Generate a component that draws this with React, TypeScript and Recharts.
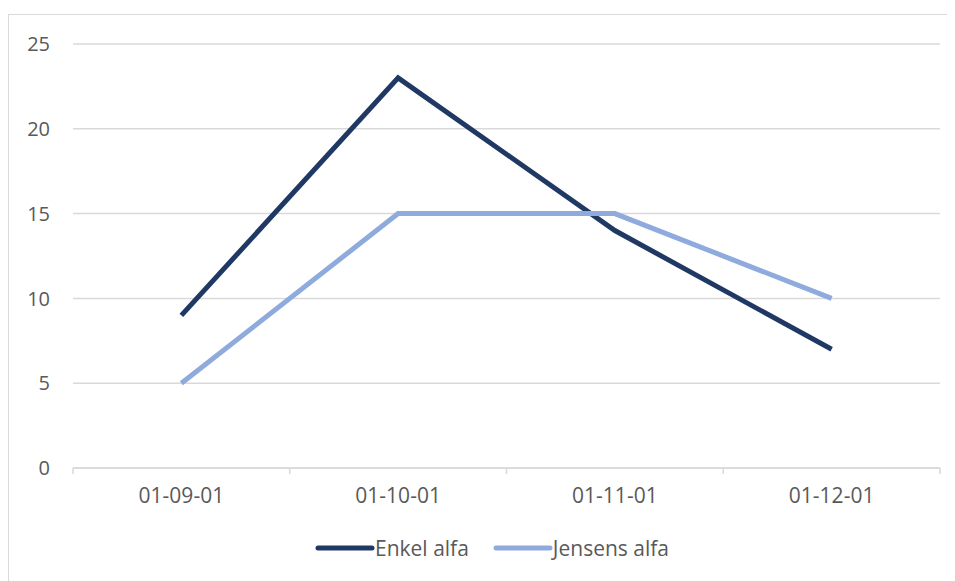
import { CartesianGrid, Legend, Line, LineChart, XAxis, YAxis } from 'recharts'

const months = ['01-09-01', '01-10-01', '01-11-01', '01-12-01']
const enkelAlfa = [9, 23, 14, 7]
const jensensAlfa = [5, 15, 15, 10]
const yTicks = [0, 5, 10, 15, 20, 25]

const DARK = '#203864'
const LIGHT = '#8faadc'
const TEXT = '#595959'
const GRID = '#d9d9d9'
const FONT = '"Open Sans", sans-serif'

const data = months.map((m, i) => ({
  pos: i + 0.5,
  month: m,
  enkel: enkelAlfa[i],
  jensens: jensensAlfa[i],
}))

const xTicks = months.flatMap((_, i) => [i, i + 0.5]).concat(months.length)

function MonthTick(props: any) {
  const { x, y, payload } = props
  const v = payload.value as number
  if (Number.isInteger(v)) {
    return <line x1={x} x2={x} y1={y} y2={y + 6} stroke={GRID} strokeWidth={1.5} />
  }
  return (
    <text x={x} y={y + 29} textAnchor="middle" dominantBaseline="middle" fill={TEXT} fontSize={21} fontFamily={FONT}>
      {months[Math.floor(v)]}
    </text>
  )
}

const series = [
  { name: 'Enkel alfa', color: DARK },
  { name: 'Jensens alfa', color: LIGHT },
]

function ChartLegend() {
  return (
    <div style={{ display: 'flex', alignItems: 'center', height: 30, paddingLeft: 307, fontFamily: FONT, fontSize: 21, color: TEXT }}>
      {series.map((s) => (
        <div key={s.name} style={{ display: 'flex', alignItems: 'center', marginRight: 24 }}>
          <svg width={60} height={10}>
            <line x1={3} x2={57} y1={5} y2={5} stroke={s.color} strokeWidth={5} strokeLinecap="round" />
          </svg>
          <span>{s.name}</span>
        </div>
      ))}
    </div>
  )
}

export default function App() {
  return (
    <div style={{ position: 'relative', width: 947, height: 573, overflow: 'hidden' }}>
      <div style={{ position: 'absolute', top: 6, left: 0, width: 1200, height: 1200, border: `1.5px solid ${GRID}` }} />
      <div style={{ position: 'absolute', top: 0, left: 0 }}>
        <LineChart width={947} height={573} data={data} margin={{ top: 36, right: 15, bottom: 18, left: 20 }}>
          <CartesianGrid horizontal vertical={false} stroke={GRID} strokeWidth={1.5} />
          <XAxis
            dataKey="pos"
            type="number"
            domain={[0, months.length]}
            ticks={xTicks}
            interval={0}
            tick={<MonthTick />}
            tickLine={false}
            tickSize={0}
            tickMargin={0}
            axisLine={{ stroke: GRID, strokeWidth: 1.5 }}
            height={65}
          />
          <YAxis
            domain={[0, 25]}
            ticks={yTicks}
            width={45}
            axisLine={false}
            tickLine={false}
            tickSize={0}
            tickMargin={23}
            tick={{ fill: TEXT, fontSize: 20, fontFamily: FONT }}
          />
          <Legend verticalAlign="bottom" height={30} wrapperStyle={{ left: 0, width: 947 }} content={<ChartLegend />} />
          <Line dataKey="enkel" name="Enkel alfa" stroke={DARK} strokeWidth={5} dot={false} isAnimationActive={false} />
          <Line dataKey="jensens" name="Jensens alfa" stroke={LIGHT} strokeWidth={5} dot={false} isAnimationActive={false} />
        </LineChart>
      </div>
    </div>
  )
}
